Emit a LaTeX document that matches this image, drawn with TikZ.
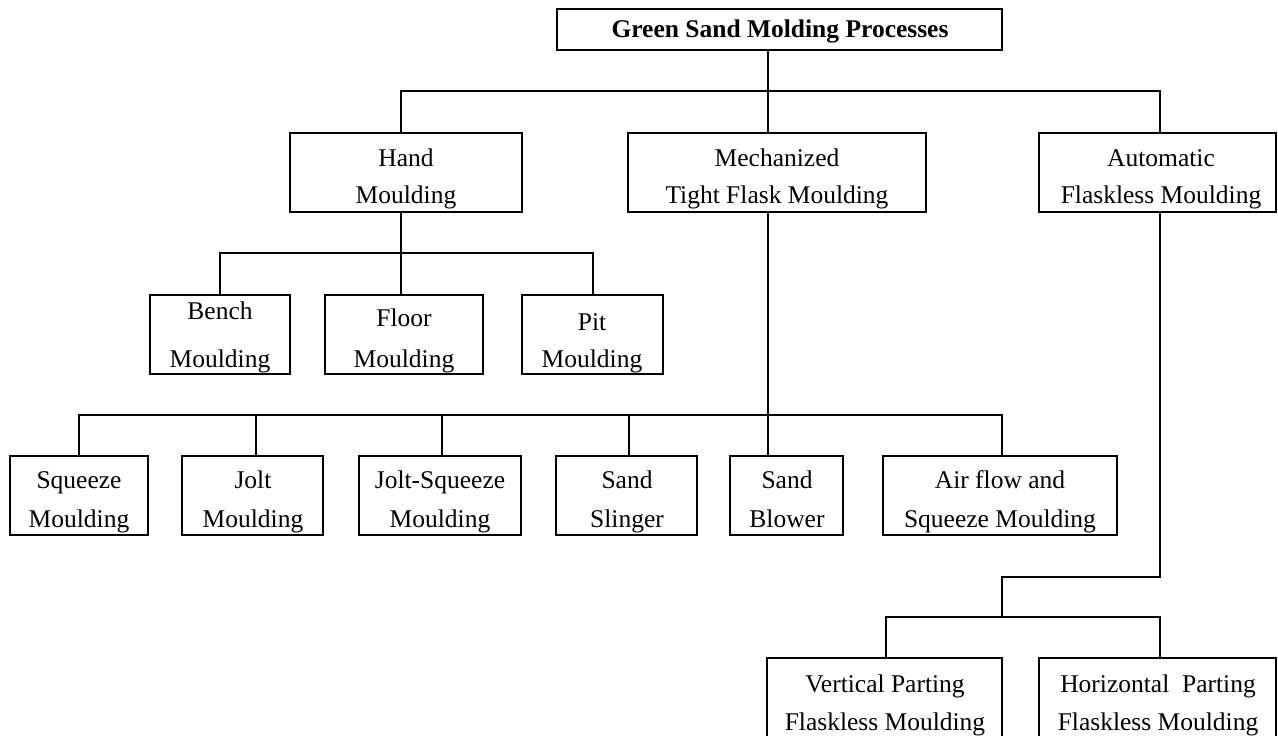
\documentclass[tikz,border=0pt]{standalone}
\usepackage{fontspec}
\setmainfont{Liberation Serif}
\begin{document}
\begin{tikzpicture}[x=1pt,y=-1pt,
  box/.style={draw=black,line width=1.6pt,inner sep=0pt,outer sep=0pt,rectangle},
  txt/.style={anchor=base,inner sep=0pt,outer sep=0pt,font=\fontsize{25.5}{30}\selectfont},
  ttl/.style={anchor=base,inner sep=0pt,outer sep=0pt,font=\fontsize{25.5}{30}\selectfont\bfseries},
  link/.style={draw=black,line width=1.6pt}]
\useasboundingbox (0,0) rectangle (1278,736);
\newcommand{\mkbox}[5]{\node[box,minimum width={(#4-#2)*1pt},minimum height={(#5-#3)*1pt}] (#1) at ({(#2+#4)/2},{(#3+#5)/2}) {};}
% boxes
\mkbox{top}{557}{9}{1002}{50}
\mkbox{hand}{290}{133}{522}{212}
\mkbox{mech}{628}{133}{926}{212}
\mkbox{auto}{1039}{133}{1276}{212}
\mkbox{bench}{150}{295}{290}{374}
\mkbox{floor}{325}{295}{483}{374}
\mkbox{pit}{522}{295}{663}{374}
\mkbox{squeeze}{10}{456}{148}{535}
\mkbox{jolt}{182}{456}{323}{535}
\mkbox{joltsq}{359}{456}{521}{535}
\mkbox{slinger}{556}{456}{697}{535}
\mkbox{blower}{730}{456}{843}{535}
\mkbox{airflow}{883}{456}{1117}{535}
\mkbox{vert}{767}{658}{1002}{745}
\mkbox{horiz}{1039}{658}{1276}{745}
% texts
\node[ttl] (topt) at (780,37) {Green Sand Molding Processes};
\node[txt] (handa) at (406,166) {Hand};
\node[txt] (handb) at (406,203) {Moulding};
\node[txt] (mecha) at (777,166) {Mechanized};
\node[txt] (mechb) at (777,203) {Tight Flask Moulding};
\node[txt] (autoa) at (1161,166) {Automatic};
\node[txt] (autob) at (1161,203) {Flaskless Moulding};
\node[txt] (bencha) at (220,319) {Bench};
\node[txt] (benchb) at (220,367) {Moulding};
\node[txt] (floora) at (404,326) {Floor};
\node[txt] (floorb) at (404,367) {Moulding};
\node[txt] (pita) at (592,330) {Pit};
\node[txt] (pitb) at (592,367) {Moulding};
\node[txt] (squeezea) at (79,488) {Squeeze};
\node[txt] (squeezeb) at (79,527) {Moulding};
\node[txt] (jolta) at (253,488) {Jolt};
\node[txt] (joltb) at (253,527) {Moulding};
\node[txt] (joltsqa) at (440,488) {Jolt-Squeeze};
\node[txt] (joltsqb) at (440,527) {Moulding};
\node[txt] (slingera) at (627,488) {Sand};
\node[txt] (slingerb) at (627,527) {Slinger};
\node[txt] (blowera) at (787,488) {Sand};
\node[txt] (blowerb) at (787,527) {Blower};
\node[txt] (airflowa) at (1000,488) {Air flow and};
\node[txt] (airflowb) at (1000,527) {Squeeze Moulding};
\node[txt] (verta) at (885,692) {Vertical Parting};
\node[txt] (vertb) at (885,730) {Flaskless Moulding};
\node[txt] (horiza) at (1158,692) {Horizontal~ Parting};
\node[txt] (horizb) at (1158,730) {Flaskless Moulding};
% junction coordinates
\coordinate (busA) at (768,91);
\coordinate (handx) at (401,91);
\coordinate (autox) at (1160,91);
\coordinate (busB) at (401,253);
\coordinate (benchx) at (220,253);
\coordinate (pitx) at (593,253);
\coordinate (busC) at (768,415);
\coordinate (sqx) at (79,415);
\coordinate (joltx) at (256,415);
\coordinate (jsqx) at (442,415);
\coordinate (slx) at (629,415);
\coordinate (afx) at (1002,415);
\coordinate (busD) at (1002,577);
\coordinate (busE) at (1002,617);
\coordinate (vertx) at (886,617);
\coordinate (horx) at (1160,617);
% connectors
\draw[link] (top.south -| busA) -- (mech.north -| busA);
\draw[link] (hand.north -| handx) -- (handx) -- (autox) -- (auto.north -| autox);
\draw[link] (hand.south -| busB) -- (pit.north -| busB);
\draw[link] (bench.north -| benchx) -- (benchx) -- (pitx) -- (pit.north -| pitx);
\draw[link] (mech.south -| busC) -- (blower.north -| busC);
\draw[link] (squeeze.north -| sqx) -- (sqx) -- (afx) -- (airflow.north -| afx);
\draw[link] (jolt.north -| joltx) -- (joltx);
\draw[link] (joltsq.north -| jsqx) -- (jsqx);
\draw[link] (slinger.north -| slx) -- (slx);
\draw[link] (auto.south -| horx) -- (horx |- busD) -- (busD) -- (busE);
\draw[link] (vert.north -| vertx) -- (vertx) -- (horx) -- (horiz.north -| horx);
\end{tikzpicture}
\end{document}
